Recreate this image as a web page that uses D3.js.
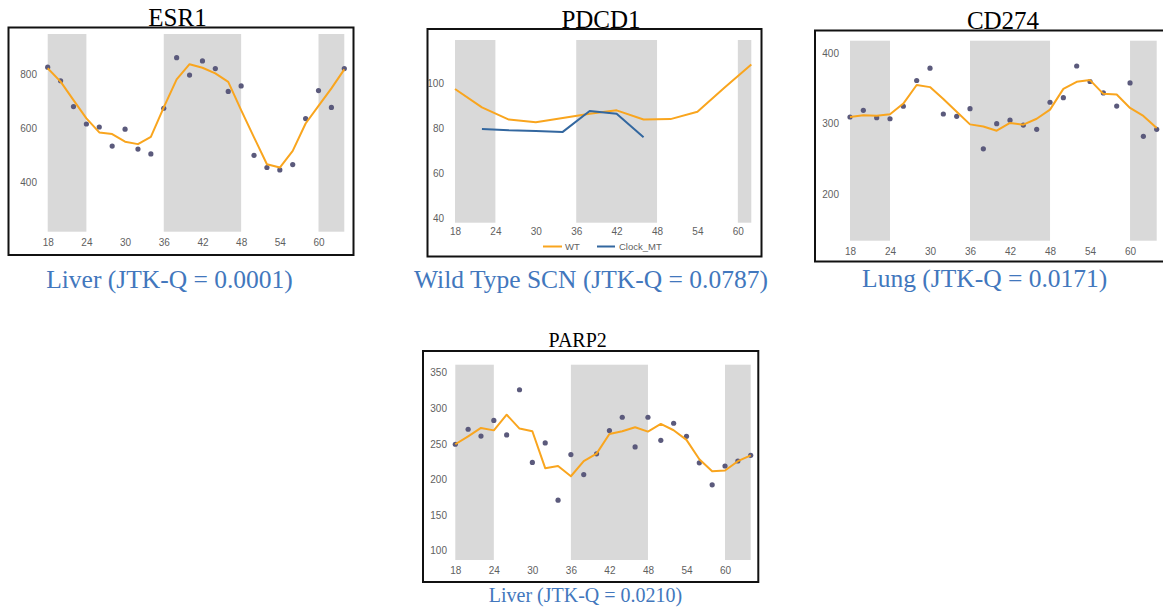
<!DOCTYPE html>
<html>
<head>
<meta charset="utf-8">
<script src="https://cdn.jsdelivr.net/npm/d3@7"></script>
<style>
  html, body { margin: 0; padding: 0; background: #ffffff; }
  svg { display: block; }
</style>
</head>
<body>
<svg id="chart" width="1163" height="610"></svg>
<script>
// ---------------- DATA ----------------
const hours = [18,20,22,24,26,28,30,32,34,36,38,40,42,44,46,48,50,52,54,56,58,60,62,64];
const xTicks = [18,24,30,36,42,48,54,60];
const darkBands = [[18,24],[36,48],[60,64]];

// ESR1 (Liver)
const esr1Points = [825,775,680,616,605,535,597,524,506,674,860,796,848,820,736,756,501,456,447,467,636,739,677,820];
const esr1Fit    = [821,772,704,637,585,579,551,542,569,677,780,836,823,802,771,667,567,468,456,517,618,683,747,817];
const esr1YTicks = [400,600,800];

// PDCD1 (Wild Type SCN)
const pdcd1Hours = [18,22,26,30,34,38,42,46,50,54,58,62];
const pdcd1WT    = [97.5,89.3,83.9,82.7,84.6,86.5,88.0,83.9,84.1,87.4,98.0,108.4];
const pdcd1MTHours = [22,26,30,34,38,42,46];
const pdcd1MT    = [79.7,79.1,78.8,78.4,87.7,86.5,76.0];
const pdcd1YTicks = [40,60,80,100];
const pdcd1Bands = [[18,24],[36,48],[60,62]];
const pdcd1Legend = ["WT","Clock_MT"];

// CD274 (Lung)
const cd274Points = [309.5,319,308.6,307,324.8,361.4,379,313.8,310.5,321.4,264.3,300,305,298,292,330.5,337,382,360,343.8,325,358,282,292];
const cd274Fit    = [309.5,312,311.4,313.3,328.6,355,352,335,317,299,296,290,301,298.6,307,320,349.5,359.5,362,342.4,341.4,322.4,311,293.8];
const cd274YTicks = [200,300,400];

// PARP2 (Liver)
const parp2Points = [249.5,270.6,261,283,262.6,326,224,251.4,171,235,207,236,268.7,287.4,245.8,287.4,255,279,260.7,223.4,192.5,219,226,234];
const parp2Fit    = [249.5,260.7,272.4,269,291,271.5,267.8,215.9,219,204.6,225.7,236.4,264,267.8,273.4,267.3,278,269.2,255.6,228.5,211.7,212.6,225.7,234];
const parp2YTicks = [100,150,200,250,300,350];

const titles = ["ESR1","PDCD1","CD274","PARP2"];
const subtitles = ["Liver (JTK-Q = 0.0001)","Wild Type SCN (JTK-Q = 0.0787)","Lung (JTK-Q = 0.0171)","Liver (JTK-Q = 0.0210)"];

// ---------------- STYLE ----------------
const ORANGE = "#f9a51e";
const BLUE = "#33679f";
const DOT = "#5b5a7c";
const BAND = "#d9d9d9";
const TICK = "#5f5f5f";
const SUB = "#4277bd";
const SERIF = "'Liberation Serif','Times New Roman',serif";
const SANS = "'Liberation Sans',Arial,sans-serif";

const svg = d3.select("#chart");

const panels = [
  { title: titles[0], sub: subtitles[0], box: [8.5, 27.5, 353.5, 255],
    xDom: [18,64], xRange: [47.7,344.3], yDom: [220,947], yRange: [231.7,34],
    yTicks: esr1YTicks, yLabelX: 37, xLabelY: 247, titleX: 177.5, titleY: 26, titleSize: 25,
    subX: 169.5, subY: 288, subSize: 25.5, bands: darkBands,
    series: [{type:"dots", x: hours, y: esr1Points}, {type:"line", x: hours, y: esr1Fit, color: ORANGE}] },
  { title: titles[1], sub: subtitles[1], box: [427.5, 29, 761.5, 256.5],
    xDom: [18,62], xRange: [455,751.3], yDom: [38,119.3], yRange: [222.7,40],
    yTicks: pdcd1YTicks, yLabelX: 444, xLabelY: 236, titleX: 601, titleY: 28.3, titleSize: 25,
    subX: 591, subY: 288, subSize: 25.5, bands: pdcd1Bands, legend: true,
    series: [{type:"line", x: pdcd1Hours, y: pdcd1WT, color: ORANGE}, {type:"line", x: pdcd1MTHours, y: pdcd1MT, color: BLUE}] },
  { title: titles[2], sub: subtitles[2], box: [815, 30.5, 1175, 261.5],
    xDom: [18,64], xRange: [850,1156.7], yDom: [133.6,418], yRange: [240.7,40.7],
    yTicks: cd274YTicks, yLabelX: 839, xLabelY: 256, titleX: 1003, titleY: 29, titleSize: 25,
    subX: 984.7, subY: 287, subSize: 25.5, bands: darkBands,
    series: [{type:"dots", x: hours, y: cd274Points}, {type:"line", x: hours, y: cd274Fit, color: ORANGE}] },
  { title: titles[3], sub: subtitles[3], box: [423, 351, 758.3, 582],
    xDom: [18,64], xRange: [455.3,750.7], yDom: [87,361.2], yRange: [560,364.7],
    yTicks: parp2YTicks, yLabelX: 447, xLabelY: 575, titleX: 577.7, titleY: 347.3, titleSize: 20,
    subX: 585.5, subY: 601.5, subSize: 20, bands: darkBands,
    series: [{type:"dots", x: hours, y: parp2Points}, {type:"line", x: hours, y: parp2Fit, color: ORANGE}] }
];

panels.forEach(p => {
  const g = svg.append("g");
  const x = d3.scaleLinear().domain(p.xDom).range(p.xRange);
  const y = d3.scaleLinear().domain(p.yDom).range(p.yRange);
  const [bx0, by0, bx1, by1] = p.box;

  // box
  g.append("rect").attr("x", bx0).attr("y", by0).attr("width", bx1 - bx0).attr("height", by1 - by0)
    .attr("fill", "#fff").attr("stroke", "#111").attr("stroke-width", 2);

  // bands
  g.selectAll("rect.band").data(p.bands).enter().append("rect").attr("class","band")
    .attr("x", d => x(d[0])).attr("width", d => x(d[1]) - x(d[0]))
    .attr("y", y(p.yDom[1])).attr("height", y(p.yDom[0]) - y(p.yDom[1]))
    .attr("fill", BAND);

  // y axis (labels only)
  const yAxis = d3.axisLeft(y).tickValues(p.yTicks).tickSize(0).tickPadding(0).tickFormat(d3.format("d"));
  const ya = g.append("g").attr("transform", `translate(${p.yLabelX},0)`).call(yAxis);
  ya.select(".domain").remove();
  ya.selectAll("text").attr("fill", TICK).style("font-family", SANS).style("font-size", "10px");

  // x axis (labels only)
  const xAxis = d3.axisBottom(x).tickValues(xTicks).tickSize(0).tickPadding(0).tickFormat(d3.format("d"));
  const xa = g.append("g").attr("transform", `translate(0,${p.xLabelY - 8})`).call(xAxis);
  xa.select(".domain").remove();
  xa.selectAll("text").attr("fill", TICK).style("font-family", SANS).style("font-size", "10px").attr("dy", "0.71em");

  // series
  p.series.forEach(s => {
    const pts = s.x.map((h, i) => [h, s.y[i]]);
    if (s.type === "line") {
      g.append("path").datum(pts)
        .attr("d", d3.line().x(d => x(d[0])).y(d => y(d[1])))
        .attr("fill", "none").attr("stroke", s.color).attr("stroke-width", 2).attr("stroke-linejoin", "round");
    } else {
      g.selectAll("circle.pt").data(pts).enter().append("circle").attr("class","pt")
        .attr("cx", d => x(d[0])).attr("cy", d => y(d[1])).attr("r", 2.6).attr("fill", DOT);
    }
  });

  // legend
  if (p.legend) {
    const ly = 246.5;
    const items = [{name: pdcd1Legend[0], color: ORANGE, x0: 543, x1: 562, tx: 565},
                   {name: pdcd1Legend[1], color: BLUE, x0: 597, x1: 615, tx: 619}];
    items.forEach(it => {
      g.append("line").attr("x1", it.x0).attr("x2", it.x1).attr("y1", ly).attr("y2", ly)
        .attr("stroke", it.color).attr("stroke-width", 2);
      g.append("text").attr("x", it.tx).attr("y", ly + 3.5).text(it.name)
        .attr("fill", TICK).style("font-family", SANS).style("font-size", "9.5px");
    });
  }

  // title
  svg.append("text").attr("x", p.titleX).attr("y", p.titleY).attr("text-anchor", "middle")
    .style("font-family", SERIF).style("font-size", p.titleSize + "px").attr("fill", "#000").text(p.title);
  // subtitle
  svg.append("text").attr("x", p.subX).attr("y", p.subY).attr("text-anchor", "middle")
    .style("font-family", SERIF).style("font-size", p.subSize + "px").attr("fill", SUB).text(p.sub);
});
</script>
</body>
</html>
